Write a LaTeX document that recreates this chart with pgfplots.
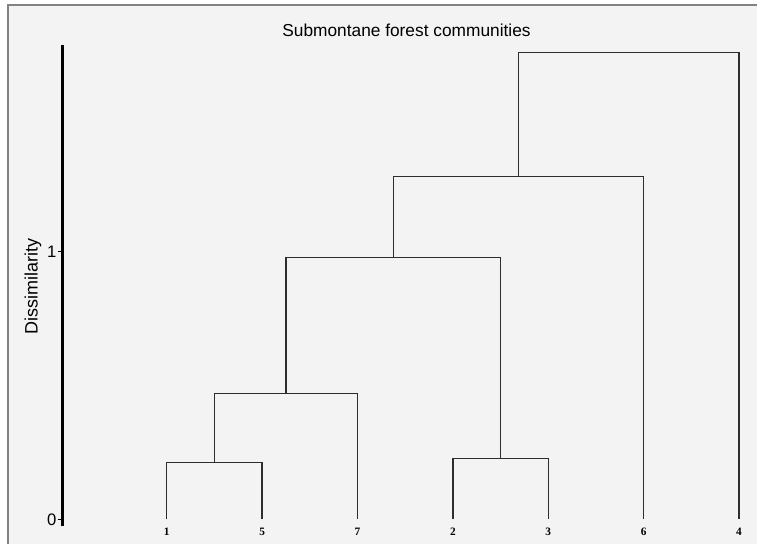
\documentclass[border=0pt]{standalone}
\usepackage{fontspec}
\setmainfont{Liberation Sans}
\newfontfamily\leaffont{Liberation Serif}
\usepackage{pgfplots}
\pgfplotsset{compat=1.18}
\definecolor{bgcol}{RGB}{243,243,243}
\definecolor{framecol}{RGB}{130,130,130}
\definecolor{linecol}{RGB}{45,45,45}
\begin{document}
\begin{tikzpicture}[x=0.75pt,y=-0.75pt]
\fill[white] (0,0) rectangle (758,545);
\fill[bgcol] (8,5) rectangle (758,545);
\draw[framecol, line width=1.5pt] (8.5,545) -- (8.5,5.5) -- (758,5.5);
\node[font=\fontsize{13}{15}\selectfont] at (407,30) {Submontane forest communities};
\node[font=\fontsize{13.5}{15}\selectfont, rotate=90] at (33,287) {Dissimilarity};
\begin{axis}[
  at={(47.25pt,-395.25pt)}, anchor=south west,
  scale only axis, width=520.5pt, height=361.5pt,
  xmin=-0.089, xmax=7.178, ymin=-0.026, ymax=1.772,
  clip=false,
  axis x line=bottom, axis y line=left,
  x axis line style={draw=none},
  y axis line style={-, line width=2.25pt, black},
  xtick={1,2,3,4,5,6,7},
  xticklabels={1,5,7,2,3,6,4},
  xtick style={draw=none},
  xticklabel style={anchor=center, text height=6pt, text depth=0pt, font=\leaffont\bfseries\fontsize{8.5}{9}\selectfont},
  ytick={0,1},
  yticklabels={0,1},
  ytick style={black, line width=0.8pt},
  tick align=outside,
  major tick length=3.75pt,
  yticklabel style={font=\fontsize{12.5}{14}\selectfont, inner sep=1pt},
  /pgf/number format/assume math mode=true,
]
\addplot[linecol, line width=1pt, mark=none, solid] coordinates {(1,0) (1,0.213) (2,0.213) (2,0)};
\addplot[linecol, line width=1pt, mark=none, solid] coordinates {(4,0) (4,0.228) (5,0.228) (5,0)};
\addplot[linecol, line width=1pt, mark=none, solid] coordinates {(1.5,0.213) (1.5,0.470) (3,0.470) (3,0)};
\addplot[linecol, line width=1pt, mark=none, solid] coordinates {(2.25,0.470) (2.25,0.978) (4.5,0.978) (4.5,0.228)};
\addplot[linecol, line width=1pt, mark=none, solid] coordinates {(3.375,0.978) (3.375,1.280) (6,1.280) (6,0)};
\addplot[linecol, line width=1pt, mark=none, solid] coordinates {(4.6875,1.280) (4.6875,1.743) (7,1.743) (7,0)};
\end{axis}
\end{tikzpicture}
\end{document}
